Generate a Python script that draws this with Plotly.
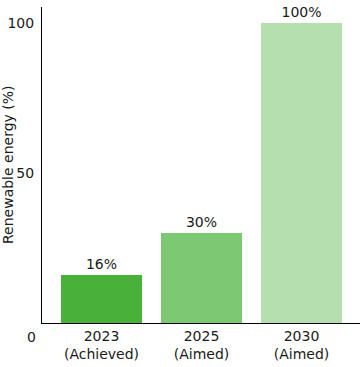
import plotly.graph_objects as go

categories = ["2023<br>(Achieved)", "2025<br>(Aimed)", "2030<br>(Aimed)"]
values = [16, 30, 100]
labels = ["16%", "30%", "100%"]
colors = ["#49b03a", "#7dc872", "#b6dfb0"]
y_ticks = [50, 100]

font = dict(family="DejaVu Sans, Verdana, sans-serif", size=14, color="#1a1a1a")

fig = go.Figure(go.Bar(
    x=list(range(len(categories))), y=values, text=labels,
    textposition="outside", textfont=font, cliponaxis=False,
    marker=dict(color=colors, line=dict(width=0)), width=0.81,
    hoverinfo="skip",
))
fig.update_layout(
    template="none",
    width=360, height=367, margin=dict(l=42, r=0, t=7, b=44, autoexpand=False),
    paper_bgcolor="white", plot_bgcolor="white", font=font, showlegend=False,
    xaxis=dict(range=[-0.595, 2.585], tickvals=list(range(len(categories))),
               ticktext=categories, showline=True, linecolor="black", linewidth=1,
               showgrid=False, zeroline=False, ticks="", tickfont=font, automargin=False),
    yaxis=dict(range=[0, 105.3], tickvals=y_ticks, showline=True, linecolor="black",
               linewidth=1, showgrid=False, zeroline=False, ticks="", tickfont=font,
               ticklabelstandoff=4, automargin=False),
    annotations=[
        dict(text="Renewable energy (%)", xref="paper", yref="paper", x=-34/318, y=0.5,
             xanchor="center", yanchor="middle", textangle=-90, showarrow=False, font=font),
        dict(text="0", xref="paper", yref="y", x=-11/318, y=0, yshift=-14,
             xanchor="center", yanchor="middle", showarrow=False, font=font),
    ],
)
fig.write_html("out.html", config={"displayModeBar": False},
               post_script="document.body.style.margin='0';")
